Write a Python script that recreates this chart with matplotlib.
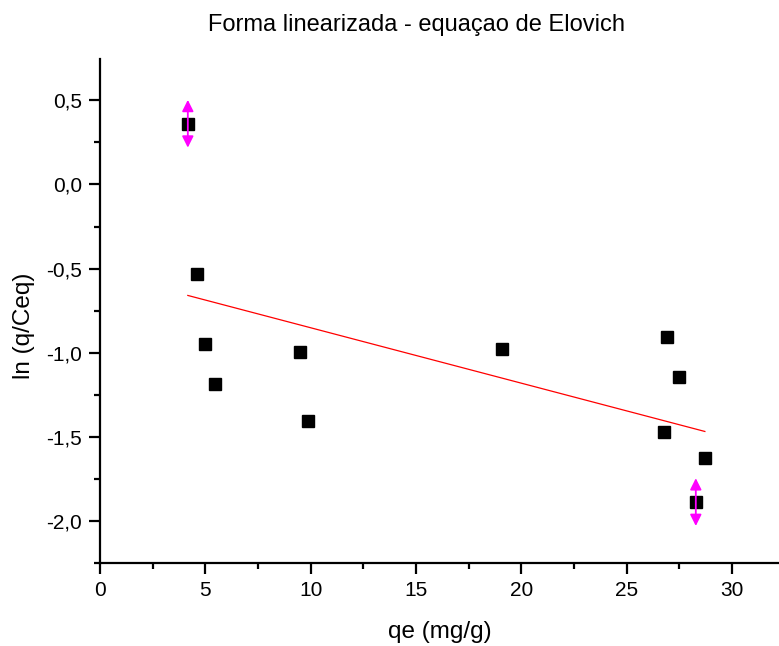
import numpy as np
import matplotlib
matplotlib.use("Agg")
import matplotlib.pyplot as plt

plt.rcParams['font.family'] = ['Liberation Sans', 'DejaVu Sans']

# Data
qe = [4.17, 4.60, 4.98, 5.45, 9.48, 9.86, 19.10, 26.92, 27.49, 26.78, 28.72, 28.29]
ln_q_ceq = [0.36, -0.533, -0.947, -1.183, -0.994, -1.408, -0.976, -0.905, -1.142, -1.473, -1.627, -1.888]

# Marked (magenta double-arrow) points: x, y_top, y_bottom
marker_x = [4.17, 28.29]
marker_top = [0.503, -1.746]
marker_bottom = [0.219, -2.03]

xticks = [0, 5, 10, 15, 20, 25, 30]
xticklabels = ["0", "5", "10", "15", "20", "25", "30"]
yticks = [-2.0, -1.5, -1.0, -0.5, 0.0, 0.5]
yticklabels = ["-2,0", "-1,5", "-1,0", "-0,5", "0,0", "0,5"]

fig = plt.figure(figsize=(7.79, 6.46), dpi=100)
ax = fig.add_axes([100 / 779, 83 / 646, 679 / 779, (563 - 59) / 646])

# linear fit
x = np.array(qe)
y = np.array(ln_q_ceq)
slope, intercept = np.polyfit(x, y, 1)
xf = np.array([x.min(), x.max()])
ax.plot(xf, slope * xf + intercept, color='red', lw=0.9, zorder=2)

ax.plot(qe, ln_q_ceq, linestyle='none', marker='s', markersize=8.5,
        color='black', zorder=3)

for mx, t, b in zip(marker_x, marker_top, marker_bottom):
    ax.annotate('', xy=(mx, t), xytext=(mx, b),
                arrowprops=dict(arrowstyle='<|-|>', color='magenta', lw=1.3,
                                mutation_scale=17, shrinkA=0, shrinkB=0),
                zorder=4)

ax.set_xlim(0, 32.24)
ax.set_ylim(-2.237, 0.746)
ax.set_xticks(xticks)
ax.set_xticklabels(xticklabels)
ax.set_yticks(yticks)
ax.set_yticklabels(yticklabels)
ax.set_xticks(np.arange(2.5, 32.3, 5), minor=True)
ax.set_yticks(np.arange(-2.25, 0.75, 0.5), minor=True)

for s in ['top', 'right']:
    ax.spines[s].set_visible(False)
for s in ['left', 'bottom']:
    ax.spines[s].set_linewidth(1.6)

ax.tick_params(which='major', direction='out', length=8, width=1.6,
               labelsize=15, pad=5, colors='black')
ax.tick_params(which='minor', direction='out', length=4.5, width=1.6)

fig.text(417 / 779, 1 - 25 / 646, 'Forma linearizada - equaçao de Elovich',
         ha='center', va='center', fontsize=17)
fig.text(440 / 779, 1 - 632 / 646, 'qe (mg/g)', ha='center', va='center',
         fontsize=17.5)
fig.text(24 / 779, 1 - 326 / 646, 'ln (q/Ceq)', ha='center', va='center',
         rotation=90, fontsize=17.5)

fig.savefig('out.png', dpi=100)
